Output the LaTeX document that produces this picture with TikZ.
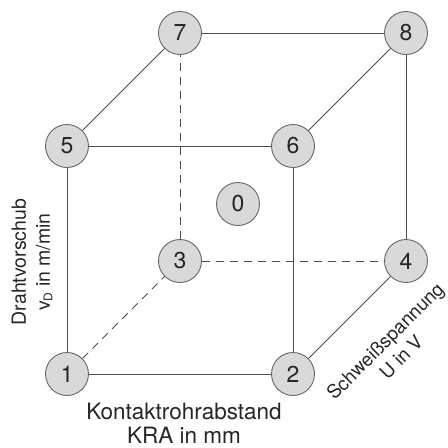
\documentclass[tikz,border=0pt]{standalone}
\usepackage{fontspec}
\setmainfont{TeX Gyre Heros}
\begin{document}
\begin{tikzpicture}[x=1pt,y=-1pt,
  vtx/.style={circle,draw=black!60,line width=0.9pt,fill=black!15,minimum size=43pt,inner sep=0pt,font=\fontsize{23}{24}\selectfont,text=black!85},
  edge/.style={draw=black!70,line width=0.8pt},
  dedge/.style={draw=black!70,line width=0.8pt,dash pattern=on 8pt off 6pt},
  lbl/.style={font=\fontsize{19.5}{24}\selectfont,text=black!85,align=center,inner sep=0pt}]
\useasboundingbox (0,0) rectangle (448,448);
\node[vtx] (n1) at (67,374) {1};
\node[vtx] (n2) at (293,374) {2};
\node[vtx] (n5) at (67,146) {5};
\node[vtx] (n6) at (293,146) {6};
\node[vtx] (n3) at (180,261) {3};
\node[vtx] (n4) at (406,261) {4};
\node[vtx] (n7) at (180,33) {7};
\node[vtx] (n8) at (406,33) {8};
\node[vtx] (n0) at (238,204) {0};
\draw[edge] (n1) -- (n2);
\draw[edge] (n1) -- (n5);
\draw[edge] (n5) -- (n6);
\draw[edge] (n2) -- (n6);
\draw[edge] (n5) -- (n7);
\draw[edge] (n7) -- (n8);
\draw[edge] (n6) -- (n8);
\draw[edge] (n8) -- (n4);
\draw[edge] (n2) -- (n4);
\draw[dedge] (n3) -- (n7);
\draw[dedge] (n3) -- (n4);
\draw[dedge] (n1) -- (n3);
\node[lbl,font=\fontsize{22.5}{24}\selectfont] (kra) at (184,423) {Kontaktrohrabstand\\KRA in mm};
\node[lbl,rotate=90] (dv) at (32,262) {Drahtvorschub\\v\raisebox{-0.25ex}{\fontsize{12}{12}\selectfont D} in m/min};
\node[lbl,font=\fontsize{19}{23}\selectfont,rotate=45] (su) at (393,349) {Schweißspannung\\U in V};
\end{tikzpicture}
\end{document}
